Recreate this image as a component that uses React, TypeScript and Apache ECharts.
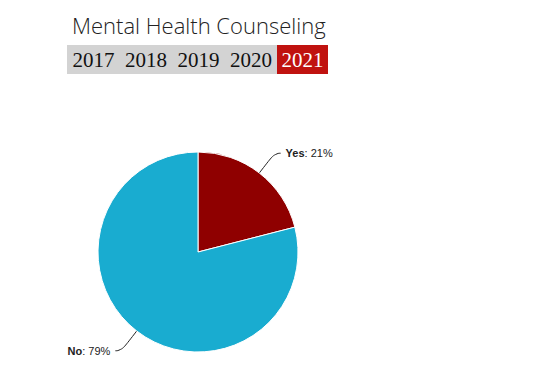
import React, { useEffect, useRef } from "react";
import * as echarts from "echarts";

const categories = ["Yes", "No"];
const values = [21, 79];
const colors = ["#8f0000", "#19acd0"];
const years = ["2017", "2018", "2019", "2020", "2021"];
const activeYear = "2021";
const titleText = "Mental Health Counseling";

export default function App() {
  const ref = useRef<HTMLDivElement>(null);
  useEffect(() => {
    if (!ref.current) return;
    const chart = echarts.init(ref.current, null, { renderer: "svg" });
    const btnX = [67, 120, 172, 225, 277];
    const btnW = [53, 52, 53, 52, 51];
    const graphics: any[] = [];
    years.forEach((y, i) => {
      const active = y === activeYear;
      graphics.push({
        type: "rect",
        shape: { x: btnX[i], y: 45, width: btnW[i], height: 29 },
        style: { fill: active ? "#c0120f" : "#d3d3d3" },
        silent: true,
      });
      graphics.push({
        type: "text",
        x: btnX[i] + btnW[i] / 2,
        y: 60,
        style: {
          text: y,
          fill: active ? "#ffffff" : "#111111",
          font: "21px 'Liberation Serif', serif",
          align: "center",
          verticalAlign: "middle",
        },
      });
    });
    chart.setOption({
      animation: false,
      title: {
        text: titleText,
        left: 67,
        top: 9,
        textStyle: {
          fontFamily: "'Open Sans', sans-serif",
          fontWeight: 300,
          fontSize: 22,
          color: "#222222",
        },
      },
      graphic: graphics,
      series: [
        {
          type: "pie",
          center: [198, 252],
          radius: 100,
          startAngle: 90,
          clockwise: true,
          data: categories.map((c, i) => ({
            name: c,
            value: values[i],
            itemStyle: { color: colors[i] },
          })),
          itemStyle: { borderColor: "#ffffff", borderWidth: 1 },
          label: {
            show: true,
            formatter: "{b|{b}}: {d}%",
            fontFamily: "'Liberation Sans', Arial, sans-serif",
            fontSize: 11,
            color: "#222222",
            rich: {
              b: {
                fontWeight: "bold",
                fontFamily: "'Liberation Sans', Arial, sans-serif",
                fontSize: 11,
                color: "#222222",
              },
            },
          },
          labelLine: {
            show: true,
            length: 25,
            length2: 6,
            smooth: 0.6,
            lineStyle: { color: "#222222", width: 1 },
          },
        },
      ],
    });
    return () => chart.dispose();
  }, []);
  return (
    <div
      ref={ref}
      style={{ position: "fixed", left: 0, top: 0, width: 540, height: 380, background: "#ffffff" }}
    />
  );
}
